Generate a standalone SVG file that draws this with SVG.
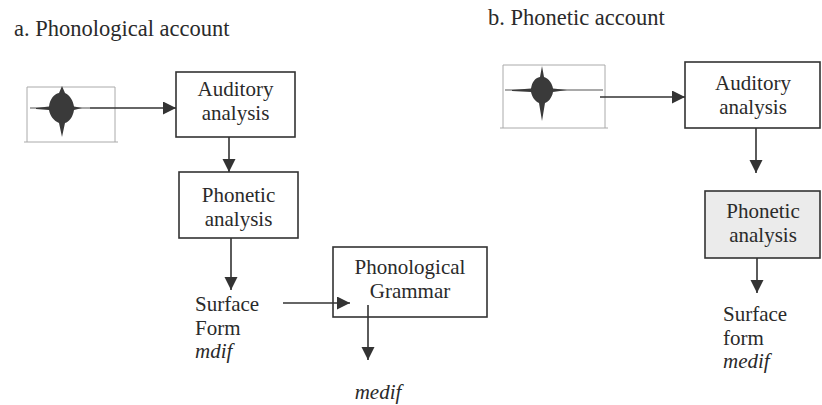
<svg xmlns="http://www.w3.org/2000/svg" width="822" height="405" viewBox="0 0 822 405">
<defs>
<marker id="ah" markerUnits="userSpaceOnUse" markerWidth="14" markerHeight="14" refX="13" refY="6.5" orient="auto">
<path d="M0,0 L13,6.5 L0,13 z" fill="#333"/>
</marker>
<style>
text{font-family:"Liberation Serif","DejaVu Serif",serif;fill:#2a2a2a;}
.t{font-size:22.5px;}
.l{font-size:21px;}
.c{text-anchor:middle;}
.i{font-style:italic;}
.box{fill:#fff;stroke:#333;stroke-width:1.6;}
.gbox{fill:#ebebeb;stroke:#333;stroke-width:1.6;}
.conn{fill:none;stroke:#333;stroke-width:1.6;marker-end:url(#ah);}
.frame{fill:none;stroke:#aaa;stroke-width:1;}
.blob{fill:#3a3a3a;}
</style>
</defs>
<rect width="822" height="405" fill="#fff"/>

<text class="t" x="14" y="36">a. Phonological account</text>
<text class="t" x="488" y="25">b. Phonetic account</text>

<g id="wave-a">
<path class="frame" d="M27,87 V142 M115,87 V142 M27,87 H115 M24,142 H118"/>
<path d="M30,108 H90" stroke="#555" stroke-width="1.2"/>
<path class="blob" d="M36,108 L49,106.5 C50,99 54,94 59,93 L62,86 L65,93 C70,95 73,101 74,106.5 L82,108 L74,110 C73,117 69,122 65,123 L62,137 L59,123 C54,121 50,116 49,110 L36,109 z"/>
</g>

<g id="auditory-a">
<rect class="box" x="176" y="72" width="119" height="65"/>
<text class="l c" x="235.5" y="96">Auditory</text>
<text class="l c" x="235.5" y="119.5">analysis</text>
</g>

<g id="phonetic-a">
<rect class="box" x="179" y="172" width="119" height="66"/>
<text class="l c" x="238.5" y="202">Phonetic</text>
<text class="l c" x="238.5" y="225.5">analysis</text>
</g>

<g id="surface-a">
<text class="l" x="195" y="311">Surface</text>
<text class="l" x="195" y="334.5">Form</text>
<text class="l i" x="195" y="358">mdif</text>
</g>

<g id="grammar-a">
<rect class="box" x="333" y="247" width="154" height="70"/>
<text class="l c" x="410" y="274">Phonological</text>
<text class="l c" x="410" y="297.5">Grammar</text>
</g>

<g id="medif-a">
<text class="l c i" x="378" y="399">medif</text>
</g>

<g id="wave-b">
<path class="frame" d="M503,65 V128 M605,65 V128 M503,65 H605 M500,128 H608"/>
<path d="M505,90 H603" stroke="#555" stroke-width="1.2"/>
<path class="blob" d="M512,90 L531,88.5 C532,82 535,78 540,77 L542,66 L544,77 C549,79 552,83 553,88.5 L567,90 L553,92 C552,98 548,102 545,103 L542,121 L539,103 C535,101 532,97 531,92 L512,91 z"/>
</g>

<g id="auditory-b">
<rect class="box" x="685" y="62" width="135" height="66"/>
<text class="l c" x="753" y="90">Auditory</text>
<text class="l c" x="753" y="113.5">analysis</text>
</g>

<g id="phonetic-b">
<rect class="gbox" x="705" y="191" width="115" height="67"/>
<text class="l c" x="763" y="218">Phonetic</text>
<text class="l c" x="763" y="241.5">analysis</text>
</g>

<g id="surface-b">
<text class="l" x="723" y="321">Surface</text>
<text class="l" x="723" y="344.5">form</text>
<text class="l i" x="723" y="368">medif</text>
</g>

<g id="connectors">
<path class="conn" d="M90,108 H176"/>
<path class="conn" d="M229,137 V172"/>
<path class="conn" d="M231,238 V290"/>
<path class="conn" d="M283,303 H350"/>
<path class="conn" d="M368,305 V360"/>
<path class="conn" d="M600,97 H685"/>
<path class="conn" d="M756,128 V173"/>
<path class="conn" d="M757,258 V293"/>
</g>
</svg>
